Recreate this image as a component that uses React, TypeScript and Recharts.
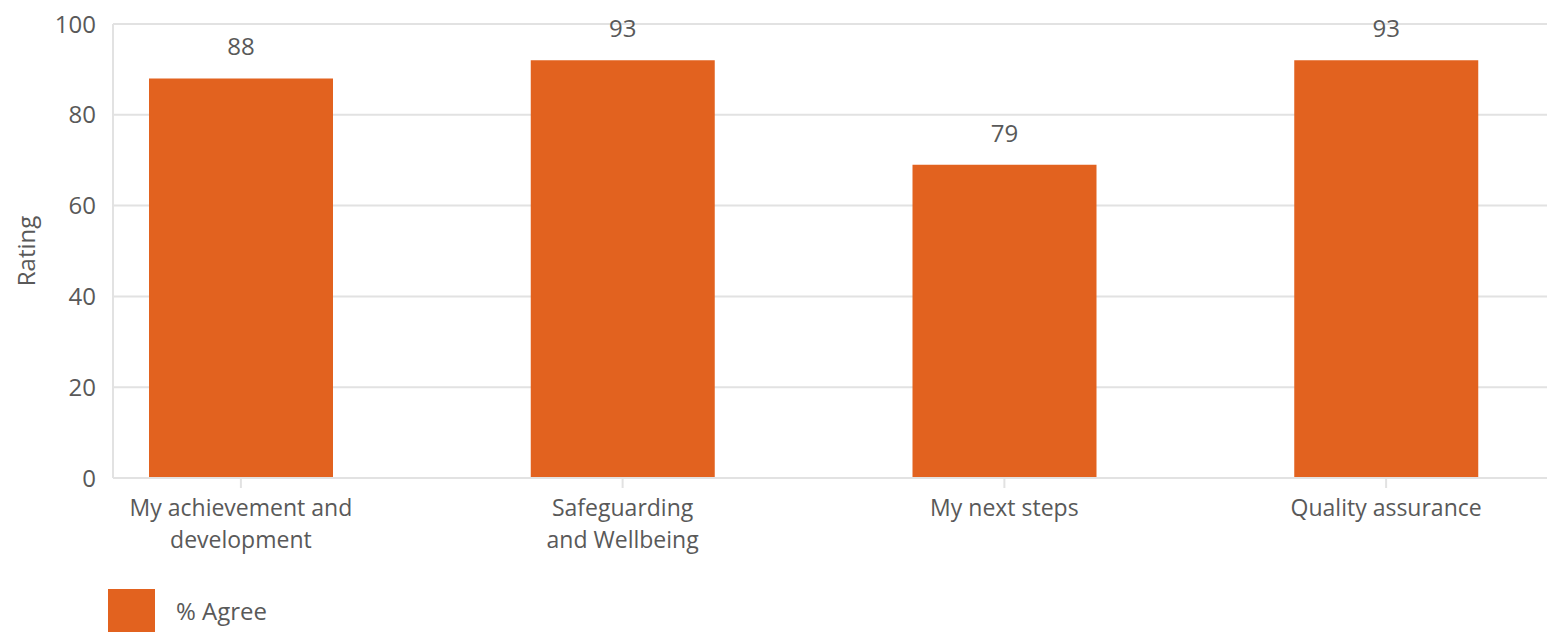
import { BarChart, Bar, XAxis, YAxis, CartesianGrid, Legend, LabelList } from 'recharts';

const categories = ['My achievement and development', 'Safeguarding and Wellbeing', 'My next steps', 'Quality assurance'];
const tickLines = [['My achievement and', 'development'], ['Safeguarding', 'and Wellbeing'], ['My next steps'], ['Quality assurance']];
// bar heights as drawn, and the value labels printed above them
const agree = [88, 92, 69, 92];
const agreeLabels = ['88', '93', '79', '93'];
const yTicks = [0, 20, 40, 60, 80, 100];

const data = categories.map((c, i) => ({ name: c, agree: agree[i] }));

const FONT = '"Open Sans", sans-serif';
const FS = 24;
const TEXT = '#595959';
const ORANGE = '#E2621F';
const GRID = '#e2e2e2';

function CatTick(props: any) {
  const { x, y, payload, index } = props;
  const lines = tickLines[index] || [payload.value];
  return (
    <g>
      {lines.map((l: string, i: number) => (
        <text key={i} x={x} y={y + 26 + i * 32} textAnchor="middle" fill={TEXT} fontSize={23} fontFamily={FONT}>
          {l}
        </text>
      ))}
    </g>
  );
}

function ValueLabel(props: any) {
  const { x, y, width, index } = props;
  return (
    <text x={x + width / 2} y={y - 23} textAnchor="middle" fill={TEXT} fontSize={FS} fontFamily={FONT}>
      {agreeLabels[index]}
    </text>
  );
}

function RatingLabel(props: any) {
  const { viewBox } = props;
  const cx = viewBox.x + 25;
  const cy = viewBox.y + viewBox.height / 2;
  return (
    <text x={cx} y={cy} transform={`rotate(-90, ${cx}, ${cy})`} textAnchor="middle" dominantBaseline="central" fill={TEXT} fontSize={FS} fontFamily={FONT}>
      Rating
    </text>
  );
}

function LegendBox() {
  return (
    <div style={{ boxSizing: 'border-box', height: 56, display: 'flex', alignItems: 'flex-start', paddingLeft: 108, paddingTop: 13, fontFamily: FONT, fontSize: FS, lineHeight: '31px', color: TEXT }}>
      <div style={{ width: 47, height: 47, background: ORANGE, flexShrink: 0 }} />
      <div style={{ marginLeft: 21, marginTop: 6 }}>% Agree</div>
    </div>
  );
}

export default function App() {
  return (
    <div style={{ position: 'absolute', left: 0, top: 0, width: 1547, height: 632, overflow: 'hidden', background: '#fff' }}>
      <BarChart width={1547} height={632} data={data} margin={{ top: 24, right: 0, bottom: 0, left: 0 }}>
        <CartesianGrid vertical={false} stroke={GRID} strokeWidth={2} />
        <XAxis
          dataKey="name"
          interval={0}
          height={98}
          padding={{ left: -63, right: -30 }}
          axisLine={{ stroke: GRID, strokeWidth: 2 }}
          tickLine={{ stroke: GRID, strokeWidth: 2 }}
          tickSize={10}
          tick={<CatTick />}
        />
        <YAxis
          width={113}
          domain={[0, 100]}
          ticks={yTicks}
          axisLine={{ stroke: GRID, strokeWidth: 2 }}
          tickLine={false}
          tickMargin={11}
          tick={{ fill: TEXT, fontSize: FS, fontFamily: FONT }}
          label={<RatingLabel />}
        />
        <Legend verticalAlign="bottom" content={<LegendBox />} />
        <Bar dataKey="agree" name="% Agree" fill={ORANGE} barSize={184} isAnimationActive={false}>
          <LabelList dataKey="agree" content={<ValueLabel />} />
        </Bar>
      </BarChart>
    </div>
  );
}
